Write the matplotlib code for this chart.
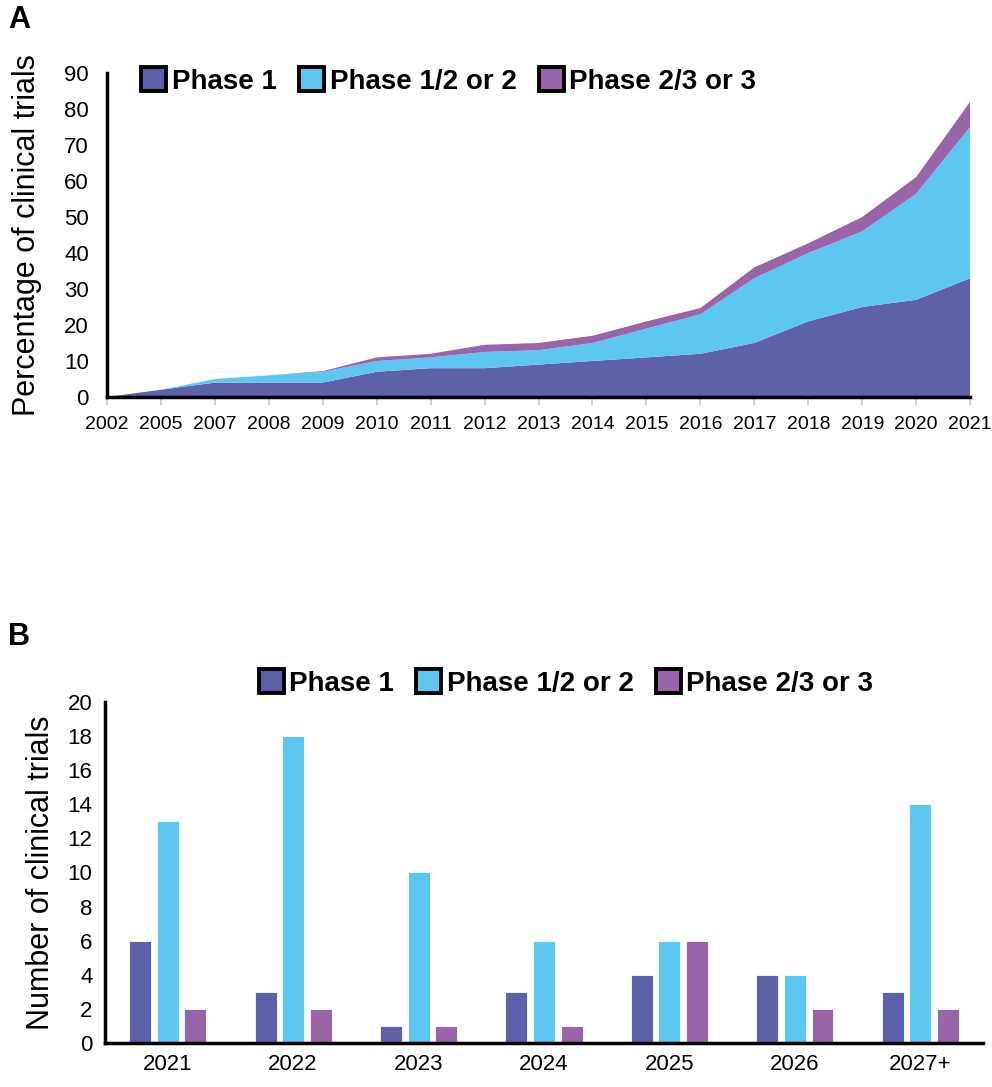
import numpy as np
import matplotlib
matplotlib.use("Agg")
import matplotlib.pyplot as plt
from matplotlib.patches import Patch

plt.rcParams['font.family'] = ['Liberation Sans', 'DejaVu Sans']

# Panel A: stacked area (percentage of clinical trials)
years_a = ["2002", "2005", "2007", "2008", "2009", "2010", "2011", "2012", "2013",
           "2014", "2015", "2016", "2017", "2018", "2019", "2020", "2021"]
phase1_a = [0, 2, 4, 4, 4, 7, 8, 8, 9, 10, 11, 12, 15, 21, 25, 27, 33]
phase12_a = [0, 0, 1, 2, 3, 3, 3, 4.5, 4, 5, 8, 11, 18, 19, 21, 29.5, 42]
phase23_a = [0, 0, 0, 0, 0.2, 1, 1, 2, 2, 2, 2, 1.7, 3, 2.7, 4, 4.6, 7]

# Panel B: grouped bars (number of clinical trials)
years_b = ["2021", "2022", "2023", "2024", "2025", "2026", "2027+"]
phase1_b = [6, 3, 1, 3, 4, 4, 3]
phase12_b = [13, 18, 10, 6, 6, 4, 14]
phase23_b = [2, 2, 1, 1, 6, 2, 2]

labels = ["Phase 1", "Phase 1/2 or 2", "Phase 2/3 or 3"]
colors = ["#5E60AA", "#5EC7F1", "#9A64A9"]

fig = plt.figure(figsize=(9.92, 10.87), dpi=100)

# ---- Panel A ----
ax1 = fig.add_axes([0.1079, 0.6348, 0.8700, 0.2980])
x = np.arange(len(years_a))
ax1.stackplot(x, phase1_a, phase12_a, phase23_a, colors=colors, linewidth=0)
ax1.set_xlim(0, len(years_a) - 1)
ax1.set_ylim(0, 90)
ax1.set_yticks(range(0, 91, 10))
ax1.set_xticks(x)
ax1.set_xticklabels(years_a, fontsize=14)
ax1.tick_params(axis='y', length=0, labelsize=16, pad=13)
ax1.tick_params(axis='x', length=6, width=1.2, color="#c8c8c8", pad=8)
for s in ["top", "right"]:
    ax1.spines[s].set_visible(False)
for s in ["left", "bottom"]:
    ax1.spines[s].set_linewidth(2.5)
    ax1.spines[s].set_color("black")
ax1.set_ylabel("Percentage of clinical trials", fontsize=22, labelpad=16)

handles = [Patch(facecolor=c, edgecolor="black", linewidth=2.8, label=l)
           for c, l in zip(colors, labels)]
leg_kw = dict(ncol=3, frameon=False, handlelength=0.9, handleheight=0.95,
              handletextpad=0.2, columnspacing=0.8, borderaxespad=0,
              prop={"weight": "bold", "size": 20})
ax1.legend(handles=handles, loc="center", bbox_to_anchor=(0.396, 0.976), **leg_kw)
fig.text(0.008, 0.995, "A", fontsize=22, fontweight="bold", va="top")

# ---- Panel B ----
ax2 = fig.add_axes([0.1058, 0.0405, 0.8852, 0.3137])
xb = np.arange(len(years_b))
w = 0.175
off = 0.22
ax2.bar(xb - off, phase1_b, w, color=colors[0], edgecolor="white", linewidth=0.6)
ax2.bar(xb, phase12_b, w, color=colors[1], edgecolor="white", linewidth=0.6)
ax2.bar(xb + off, phase23_b, w, color=colors[2], edgecolor="white", linewidth=0.6)
ax2.set_xlim(-0.5, len(years_b) - 0.5)
ax2.set_ylim(0, 20)
ax2.set_yticks(range(0, 21, 2))
ax2.set_xticks(xb)
ax2.set_xticklabels(years_b)
ax2.tick_params(axis='both', length=0, labelsize=16)
ax2.tick_params(axis='y', pad=9)
ax2.tick_params(axis='x', pad=8)
for s in ["top", "right"]:
    ax2.spines[s].set_visible(False)
for s in ["left", "bottom"]:
    ax2.spines[s].set_linewidth(2.5)
    ax2.spines[s].set_color("black")
ax2.set_ylabel("Number of clinical trials", fontsize=22, labelpad=8)
ax2.legend(handles=handles, loc="center", bbox_to_anchor=(0.525, 1.056), **leg_kw)
fig.text(0.008, 0.428, "B", fontsize=22, fontweight="bold", va="top")

plt.savefig("out.png", dpi=100)
